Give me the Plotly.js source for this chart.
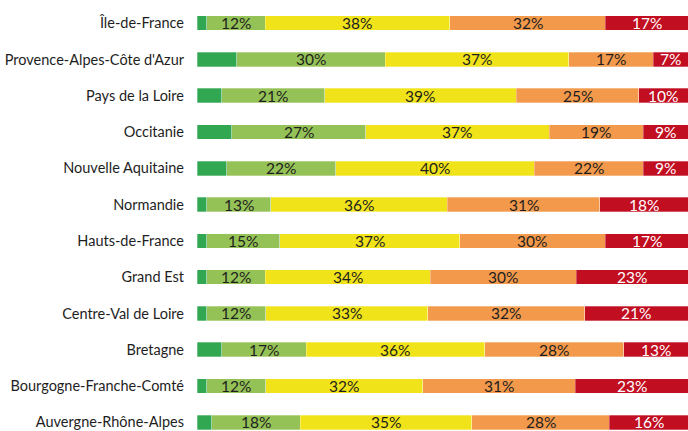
<!DOCTYPE html>
<html><head><meta charset="utf-8">
<script src="https://cdn.plot.ly/plotly-3.0.1.min.js"></script>
<style>html,body{margin:0;padding:0;background:#fff}#chart{width:688px;height:431px}</style>
</head><body><div id="chart"></div>
<script>
const regions = ["Île-de-France","Provence-Alpes-Côte d'Azur","Pays de la Loire","Occitanie","Nouvelle Aquitaine","Normandie","Hauts-de-France","Grand Est","Centre-Val de Loire","Bretagne","Bourgogne-Franche-Comté","Auvergne-Rhône-Alpes"];
const darkGreen  = [2, 8, 5, 7, 6, 2, 2, 2, 2, 5, 2, 3];
const lightGreen = [12, 30, 21, 27, 22, 13, 15, 12, 12, 17, 12, 18];
const yellow     = [38, 37, 39, 37, 40, 36, 37, 34, 33, 36, 32, 35];
const orange     = [32, 17, 25, 19, 22, 31, 30, 30, 32, 28, 31, 28];
const red        = [17, 7, 10, 9, 9, 18, 17, 23, 21, 13, 23, 16];

const series = [
  {vals: darkGreen,  color: '#30A750', label: false, tc: '#222'},
  {vals: lightGreen, color: '#95C257', label: true,  tc: '#1e1e1e'},
  {vals: yellow,     color: '#F1E31A', label: true,  tc: '#1e1e1e'},
  {vals: orange,     color: '#F2994B', label: true,  tc: '#1e1e1e'},
  {vals: red,        color: '#C20E21', label: true,  tc: '#ffffff'}
];
const fontFam = 'Lato, sans-serif';
const traces = series.map(s => ({
  type: 'bar', orientation: 'h', y: regions, x: s.vals,
  marker: {color: s.color, line: {color: 'rgba(255,255,255,0.6)', width: 0.5}},
  hoverinfo: 'skip', showlegend: false
}));

// labels centred in each segment, positioned through the axis (normalised to 100%)
const annotations = [];
regions.forEach((r, i) => {
  const total = series.reduce((a, s) => a + s.vals[i], 0);
  let cum = 0;
  series.forEach(s => {
    const v = s.vals[i];
    const mid = (cum + v / 2) / total * 100;
    cum += v;
    if (s.label) {
      annotations.push({x: mid, y: r, xref: 'x', yref: 'y', text: v + '%', showarrow: false,
        font: {family: fontFam, size: 15.5, color: s.tc}, xanchor: 'center', yanchor: 'middle'});
    }
  });
});

const layout = {
  width: 688, height: 431,
  margin: {l: 197, r: 0, t: 5, b: 0, pad: 0},
  barmode: 'stack', barnorm: 'percent', bargap: 0.6,
  paper_bgcolor: '#fff', plot_bgcolor: '#fff',
  xaxis: {range: [0, 100], showgrid: false, zeroline: false, showticklabels: false, ticks: '', fixedrange: true},
  yaxis: {type: 'category', categoryorder: 'array', categoryarray: regions, range: [11.24, -0.5],
          showgrid: false, zeroline: false, ticks: '', ticklabelstandoff: 12,
          tickfont: {family: fontFam, size: 14.5, color: '#1e1e1e'}},
  annotations: annotations,
  showlegend: false
};
Plotly.newPlot('chart', traces, layout, {staticPlot: true, displayModeBar: false});
</script></body></html>
